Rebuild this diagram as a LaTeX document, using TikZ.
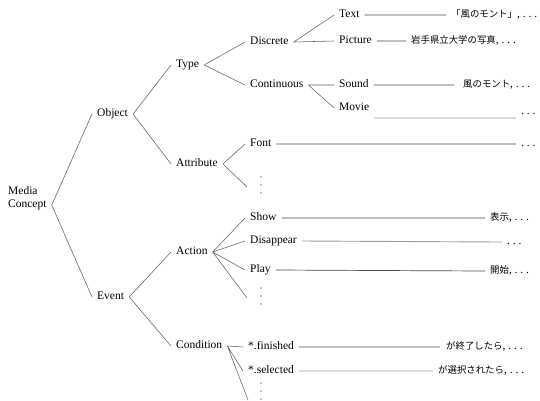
\documentclass[tikz,border=0pt]{standalone}
\usepackage{fontspec}
\setmainfont{Liberation Serif}
\newfontfamily\jpfont{Noto Sans CJK JP}
\usetikzlibrary{calc}

\tikzset{
  lbl/.style={anchor=west, inner xsep=5pt, inner ysep=0pt,
    text height=7.5pt, text depth=2pt, font=\fontsize{11.5}{13.5}\selectfont},
  val/.style={lbl, inner xsep=0pt},
  jp/.style={font=\fontsize{9.4}{11}\selectfont\jpfont},
  % a column of three dots standing for "and so on"
  dotcol/.style={inner sep=0pt, minimum width=3pt, minimum height=19pt,
    path picture={
      \fill[black] (path picture bounding box.center) circle (0.72pt)
            ++(0,8pt) circle (0.72pt) ++(0,-16pt) circle (0.72pt);}},
  branch/.style={draw=black!62, line width=0.55pt},
  lead/.style={draw=black!70, line width=0.7pt},
  leadlight/.style={draw=black!38, line width=0.9pt},
}
\newcommand{\etc}{{\fontsize{11.5}{13.5}\selectfont\rmfamily, .\ .\ .}}

\begin{document}
\begin{tikzpicture}[x=1pt, y=-1pt]
  \useasboundingbox[fill=white] (0,0) rectangle (540,400);

  % root and first level
  \node[lbl, align=left] (media) at (3,205) {Media\\Concept};
  \node[lbl] (object) at (92,114) {Object};
  \node[lbl] (event)  at (92,297) {Event};

  % second level
  \node[lbl] (type)      at (171,65)  {Type};
  \node[lbl] (attribute) at (171,164) {Attribute};
  \node[lbl] (action)    at (171,252) {Action};
  \node[lbl] (condition) at (171,346) {Condition};

  % third level
  \node[lbl] (discrete)   at (245,42)  {Discrete};
  \node[lbl] (continuous) at (245,85)  {Continuous};
  \node[lbl] (font)       at (245,144) {Font};
  \node[dotcol] (adots)   at (261,185) {};
  \node[lbl] (show)       at (245,218) {Show};
  \node[lbl] (disappear)  at (245,241) {Disappear};
  \node[lbl] (play)       at (245,270) {Play};
  \node[dotcol] (pdots)   at (261,296) {};
  \node[lbl] (finished)   at (243,347) {*.finished};
  \node[lbl] (selected)   at (243,371) {*.selected};
  \node[dotcol] (cdots)   at (261,391) {};

  % fourth level
  \node[lbl] (text)    at (334,15)  {Text};
  \node[lbl] (picture) at (334,41)  {Picture};
  \node[lbl] (sound)   at (334,85)  {Sound};
  \node[lbl] (movie)   at (334,108) {Movie};

  % values
  \node[val, jp] (vtext)    at (451,15)  {「風のモント」\etc};
  \node[val, jp] (vpicture) at (411,41)  {岩手県立大学の写真\etc};
  \node[val, jp] (vsound)   at (463,85)  {風のモント\etc};
  \node[val]     (vmovie)   at (521,112) {.\ .\ .};
  \node[val]     (vfont)    at (521,144) {.\ .\ .};
  \node[val, jp] (vshow)    at (490,218) {表示\etc};
  \node[val]     (vdisap)   at (507,242) {.\ .\ .};
  \node[val, jp] (vplay)    at (490,271) {開始\etc};
  \node[val, jp] (vfinish)  at (446,347) {が終了したら\etc};
  \node[val, jp] (vselect)  at (438,371) {が選択されたら\etc};

  % tree branches
  \path[branch] (media.east) -- (object.west)
                (media.east) -- (event.west)
                (object.east) -- (type.west)
                (object.east) -- (attribute.west)
                (event.east) -- (action.west)
                (event.east) -- (condition.west)
                (type.east) -- (discrete.west)
                (type.east) -- (continuous.west)
                (attribute.east) -- (font.west)
                (attribute.east) -- ([xshift=-14pt, yshift=-2pt]adots.center)
                (action.east) -- (show.west)
                (action.east) -- (disappear.west)
                (action.east) -- (play.west)
                (action.east) -- ([xshift=-14pt, yshift=-2pt]pdots.center)
                (condition.east) -- (finished.west)
                (condition.east) -- (selected.west)
                (condition.east) -- ([xshift=-13pt, yshift=-9pt]cdots.center)
                (discrete.east) -- (text.west)
                (discrete.east) -- (picture.west)
                (continuous.east) -- (sound.west)
                (continuous.east) -- (movie.west);

  % leaders to the values
  \path[lead] (text.east) -- ([xshift=-5pt]vtext.west)
              (picture.east) -- ([xshift=-5pt]vpicture.west)
              (sound.east) -- ([xshift=-9pt]vsound.west)
              (font.east) -- ([xshift=-5pt]vfont.west)
              (show.east) -- ([xshift=-5pt]vshow.west)
              (play.east) -- ([xshift=-5pt]vplay.west)
              (finished.east) -- ([xshift=-6pt]vfinish.west);
  \path[leadlight] ([yshift=-10pt]movie.east)
                   -- ([xshift=-5pt, yshift=-10pt]vmovie.west |- movie.east)
                   (disappear.east) -- ([xshift=-5pt]vdisap.west)
                   (selected.east) -- ([xshift=-5pt]vselect.west);
\end{tikzpicture}
\end{document}
